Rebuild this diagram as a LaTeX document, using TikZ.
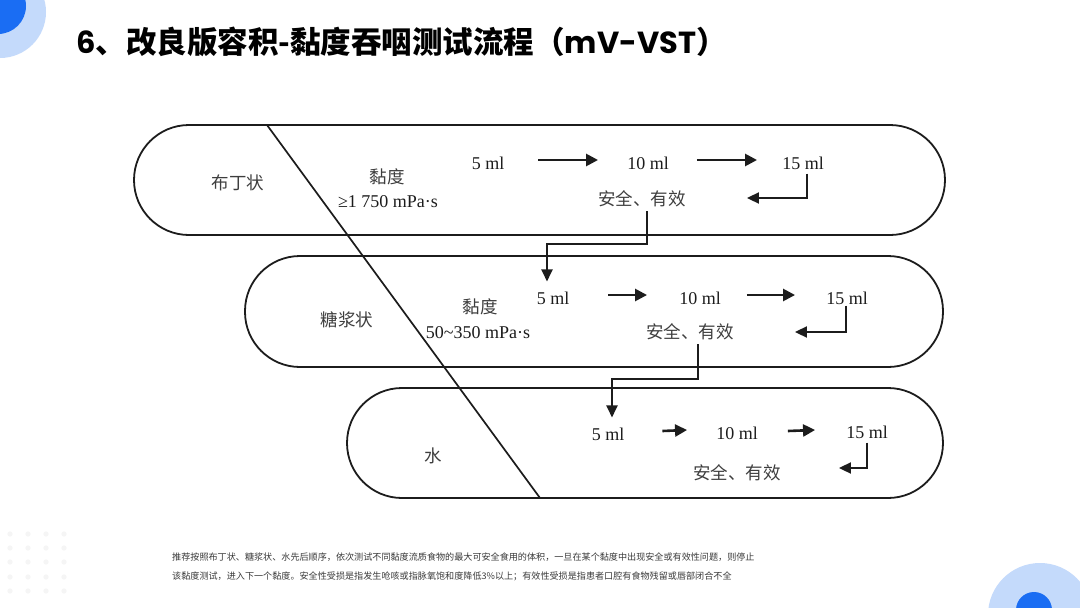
\documentclass[tikz,border=0pt]{standalone}
\usepackage{fontspec}
\setmainfont{Liberation Serif}
\newfontfamily\cjk{Noto Sans CJK SC}
\newfontfamily\pop{Poppins}
\usetikzlibrary{arrows.meta}
\definecolor{lblue}{HTML}{C4DAFB}
\definecolor{dblue}{HTML}{1A6DF3}
\definecolor{ink}{HTML}{1C1C1C}
\definecolor{dotc}{HTML}{F5F5F5}
\definecolor{fn}{HTML}{3A3A3A}
\begin{document}
\begin{tikzpicture}[x=1pt,y=-1pt,
  stad/.style={draw=ink,line width=1.8pt,rounded corners=55pt},
  num/.style={inner sep=0pt,font=\fontsize{18}{20}\selectfont,text=ink},
  han/.style={inner sep=0pt,font=\cjk\fontsize{17.5}{20}\selectfont,text=ink!85},
  arr/.style={draw=ink,line width=2.6pt,-{Triangle[length=12pt,width=12pt]}},
  elb/.style={draw=ink,line width=2pt,-{Triangle[length=12pt,width=11pt]}},
  fnote/.style={anchor=west,inner sep=0pt,font=\cjk\fontsize{9.1}{11}\selectfont,text=fn},
]
\useasboundingbox (0,0) rectangle (1080,608);
\fill[white] (0,0) rectangle (1080,608);
% decorations
\begin{scope}
\clip (0,0) rectangle (1080,608);
\fill[lblue] (0,12) circle (46);
\fill[dblue] (-2,6) circle (28);
\fill[lblue] (1040,615) circle (52);
\fill[dblue] (1034,610) circle (18);
\foreach \xx in {10,28,46,64}{
  \foreach \yy in {534,548,562,577,591}{
    \fill[dotc] (\xx,\yy) circle (2.6);
  }
}
\end{scope}
% title
\node[anchor=west,inner sep=0pt,text=black,font=\fontsize{30.5}{34}\selectfont\bfseries] (title) at (76,42)
  {{\pop 6}{\cjk 、改良版容积-黏度吞咽测试流程（}{\pop mV-VST}{\cjk ）}};
% stadiums
\draw[stad] (134,125) rectangle (945,235);
\draw[stad] (245,256) rectangle (943,367);
\draw[stad] (347,388) rectangle (943,498);
% diagonal
\coordinate (dtop) at (267,125);
\coordinate (dbot) at (540,498);
\draw[ink,line width=1.7pt] (dtop) -- (dbot);
% row 1
\node[han] (r1name) at (238,183) {布丁状};
\node[han] (r1visc) at (387,177) {黏度};
\node[num] (r1range) at (388,202) {≥1 750 mPa·s};
\node[num] (r1a) at (488,163) {5 ml};
\node[num] (r1b) at (648,163) {10 ml};
\node[num] (r1c) at (803,163) {15 ml};
\node[han] (r1s) at (642,199) {安全、有效};
\draw[arr] ([xshift=34pt,yshift=3pt]r1a.east) -- ([xshift=-29pt,yshift=3pt]r1b.west);
\draw[arr] ([xshift=28pt,yshift=3pt]r1b.east) -- ([xshift=-25pt,yshift=3pt]r1c.west);
\draw[elb] ([xshift=4pt,yshift=-4pt]r1c.south) |- ([xshift=61pt,yshift=1pt]r1s.east);
% row 2
\node[han] (r2name) at (347,320) {糖浆状};
\node[han] (r2visc) at (480,307) {黏度};
\node[num] (r2range) at (478,333) {50\textasciitilde 350 mPa·s};
\node[num] (r2a) at (553,298) {5 ml};
\node[num] (r2b) at (700,298) {10 ml};
\node[num] (r2c) at (847,298) {15 ml};
\node[han] (r2s) at (690,332) {安全、有效};
\draw[arr] ([xshift=39pt,yshift=3pt]r2a.east) -- ([xshift=-32pt,yshift=3pt]r2b.west);
\draw[arr] ([xshift=26pt,yshift=3pt]r2b.east) -- ([xshift=-31pt,yshift=3pt]r2c.west);
\draw[elb] ([xshift=-1pt,yshift=-1pt]r2c.south) |- ([xshift=61pt]r2s.east);
% row 3
\node[han] (r3name) at (433,456) {水};
\node[num] (r3a) at (608,434) {5 ml};
\node[num] (r3b) at (737,433) {10 ml};
\node[num] (r3c) at (867,432) {15 ml};
\node[han] (r3s) at (737,473) {安全、有效};
\draw[arr] ([xshift=38pt,yshift=3pt]r3a.east) -- ([xshift=-29pt,yshift=3pt]r3b.west);
\draw[arr] ([xshift=30pt,yshift=2pt]r3b.east) -- ([xshift=-31pt,yshift=2pt]r3c.west);
\draw[elb] ([yshift=-4pt]r3c.south) |- ([xshift=58pt,yshift=5pt]r3s.east);
% connectors between rows
\draw[elb] ([xshift=5pt,yshift=-4pt]r1s.south) -- ++(0,33) -| ([xshift=-6pt,yshift=10pt]r2a.north);
\draw[elb] ([xshift=8pt,yshift=-4pt]r2s.south) -- ++(0,35) -| ([xshift=4pt,yshift=10pt]r3a.north);
% footnote
\node[fnote] (fn1) at (172,557) {推荐按照布丁状、糖浆状、水先后顺序，依次测试不同黏度流质食物的最大可安全食用的体积，一旦在某个黏度中出现安全或有效性问题，则停止};
\node[fnote] (fn2) at (172,576) {该黏度测试，进入下一个黏度。安全性受损是指发生呛咳或指脉氧饱和度降低3\%以上；有效性受损是指患者口腔有食物残留或唇部闭合不全};
\end{tikzpicture}
\end{document}
